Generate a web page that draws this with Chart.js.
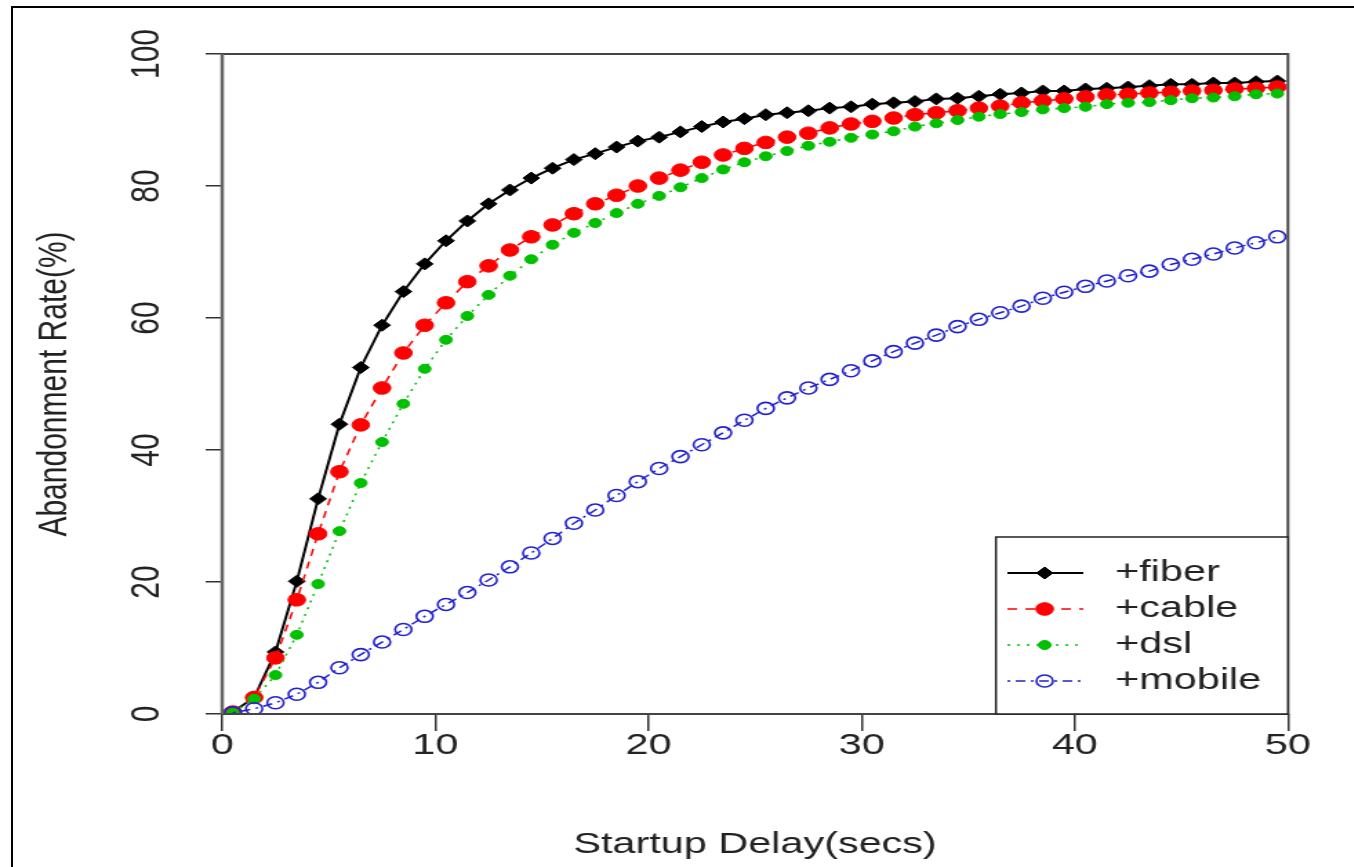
<!DOCTYPE html>
<html>
<head>
<meta charset="utf-8">
<script src="https://cdn.jsdelivr.net/npm/chart.js@4.4.1/dist/chart.umd.min.js"></script>
<style>
  html, body { margin: 0; padding: 0; background: #fff; overflow: hidden; }
  #frame { position: absolute; left: 11px; top: 6px; width: 1400px; height: 900px;
           border-left: 2px solid #000; border-top: 2px solid #000; }
  /* the original figure is stretched sideways, so the canvas is too */
  #wrap { position: absolute; left: 0; top: 0; width: 981px; height: 867px;
          transform: scaleX(1.38); transform-origin: 0 0; }
</style>
</head>
<body>
<div id="frame"></div>
<div id="wrap"><canvas id="chart"></canvas></div>
<script>
const delays = [0.5, 1.5, 2.5, 3.5, 4.5, 5.5, 6.5, 7.5, 8.5, 9.5,
    10.5, 11.5, 12.5, 13.5, 14.5, 15.5, 16.5, 17.5, 18.5, 19.5,
    20.5, 21.5, 22.5, 23.5, 24.5, 25.5, 26.5, 27.5, 28.5, 29.5,
    30.5, 31.5, 32.5, 33.5, 34.5, 35.5, 36.5, 37.5, 38.5, 39.5,
    40.5, 41.5, 42.5, 43.5, 44.5, 45.5, 46.5, 47.5, 48.5, 49.5];

const fiber = [0.3, 2.5, 9.4, 20.1, 32.6, 43.9, 52.5, 58.9, 64.0, 68.2,
    71.7, 74.7, 77.3, 79.4, 81.2, 82.7, 84.0, 84.9, 85.9, 86.8,
    87.4, 88.2, 89.0, 89.7, 90.2, 90.8, 91.1, 91.4, 91.8, 92.0,
    92.4, 92.6, 92.8, 93.2, 93.3, 93.6, 93.9, 94.1, 94.4, 94.4,
    94.7, 94.8, 95.0, 95.2, 95.4, 95.4, 95.6, 95.6, 95.8, 95.9];

const cable = [0.3, 2.5, 8.5, 17.3, 27.3, 36.7, 43.8, 49.4, 54.7, 58.9,
    62.3, 65.5, 67.9, 70.3, 72.3, 74.1, 75.8, 77.3, 78.6, 80.0,
    81.2, 82.4, 83.6, 84.7, 85.7, 86.6, 87.4, 88.0, 88.8, 89.4,
    89.8, 90.3, 90.8, 91.1, 91.4, 91.8, 92.1, 92.6, 92.9, 93.2,
    93.5, 93.8, 93.9, 94.1, 94.2, 94.4, 94.5, 94.7, 94.8, 95.0];

const dsl = [0.2, 2.3, 5.9, 12.0, 19.7, 27.7, 35.0, 41.2, 47.0, 52.3,
    56.7, 60.3, 63.5, 66.4, 68.9, 71.1, 72.9, 74.4, 75.9, 77.3,
    78.5, 79.8, 81.2, 82.5, 83.6, 84.5, 85.3, 86.1, 86.7, 87.3,
    87.8, 88.3, 89.0, 89.5, 90.0, 90.5, 90.9, 91.2, 91.6, 91.8,
    92.0, 92.4, 92.6, 92.7, 93.0, 93.3, 93.4, 93.6, 93.9, 94.0];

const mobile = [0.2, 0.8, 1.7, 3.0, 4.8, 7.0, 9.0, 10.9, 12.8, 14.8,
    16.6, 18.4, 20.3, 22.3, 24.4, 26.6, 28.9, 30.9, 33.1, 35.2,
    37.2, 39.0, 40.8, 42.6, 44.5, 46.3, 47.9, 49.4, 50.7, 52.0,
    53.5, 54.9, 56.2, 57.4, 58.7, 59.8, 60.8, 61.8, 63.0, 63.9,
    64.8, 65.6, 66.4, 67.1, 68.1, 68.9, 69.7, 70.6, 71.4, 72.3];

const xTicks = [0, 10, 20, 30, 40, 50];
const yTicks = [0, 20, 40, 60, 80, 100];

const FONT = 'Liberation Sans, Arial, sans-serif';
const TEXT = '#222';

const toPoints = vals => vals.map((v, i) => ({ x: delays[i], y: v }));

function marker(ctx, style, r, x, y) {
    ctx.beginPath();
    if (style === 'rectRot') {
        ctx.moveTo(x, y - r); ctx.lineTo(x + r, y); ctx.lineTo(x, y + r); ctx.lineTo(x - r, y);
        ctx.closePath();
    } else {
        ctx.arc(x, y, r, 0, Math.PI * 2);
    }
}

// box, rotated y labels and the legend, drawn the R way
const rStyle = {
    id: 'rStyle',
    afterDraw(chart) {
        const { ctx, chartArea: a, scales } = chart;
        ctx.save();
        ctx.strokeStyle = '#444';
        ctx.lineWidth = 2;
        ctx.strokeRect(a.left, a.top, a.right - a.left, a.bottom - a.top);
        // left axis line is heavier in the original
        ctx.strokeStyle = '#666';
        ctx.lineWidth = 2.5;
        ctx.beginPath();
        ctx.moveTo(a.left, a.top);
        ctx.lineTo(a.left, a.bottom);
        ctx.stroke();

        ctx.fillStyle = TEXT;
        ctx.font = '30px ' + FONT;
        ctx.textAlign = 'center';
        ctx.textBaseline = 'middle';
        yTicks.forEach(v => {
            ctx.save();
            ctx.translate(107, scales.y.getPixelForValue(v));
            ctx.rotate(-Math.PI / 2);
            ctx.fillText(String(v), 0, 0);
            ctx.restore();
        });

        // legend
        const lx = 721.7, ly = 537;
        ctx.fillStyle = '#fff';
        ctx.fillRect(lx, ly, a.right - lx, a.bottom - ly);
        ctx.strokeStyle = '#222';
        ctx.lineWidth = 1.5;
        ctx.strokeRect(lx, ly, a.right - lx, a.bottom - ly);

        chart.data.datasets.forEach((ds, i) => {
            const y = 573 + i * 36;
            ctx.save();
            ctx.strokeStyle = ds.borderColor;
            ctx.lineWidth = ds.borderWidth;
            ctx.setLineDash(ds.borderDash || []);
            ctx.beginPath();
            ctx.moveTo(730, y);
            ctx.lineTo(785, y);
            ctx.stroke();
            ctx.setLineDash([]);
            marker(ctx, ds.pointStyle, ds.pointRadius, 757, y);
            ctx.fillStyle = ds.pointBackgroundColor;
            ctx.fill();
            ctx.lineWidth = ds.pointBorderWidth;
            ctx.stroke();
            ctx.restore();

            ctx.fillStyle = TEXT;
            ctx.textAlign = 'left';
            ctx.fillText(ds.label, 808, y);
        });
        ctx.restore();
    }
};

new Chart(document.getElementById('chart'), {
    type: 'line',
    data: {
        datasets: [
            {
                label: '+fiber', data: toPoints(fiber), order: 4,
                borderColor: '#000', borderWidth: 2,
                pointStyle: 'rectRot', pointRadius: 6, pointBorderWidth: 1,
                pointBackgroundColor: '#000', pointBorderColor: '#000'
            },
            {
                label: '+cable', data: toPoints(cable), order: 3,
                borderColor: '#ff0000', borderWidth: 1.5, borderDash: [7, 6],
                pointStyle: 'circle', pointRadius: 6.3, pointBorderWidth: 1,
                pointBackgroundColor: '#ff0000', pointBorderColor: '#ff0000'
            },
            {
                label: '+dsl', data: toPoints(dsl), order: 2,
                borderColor: '#00c000', borderWidth: 1.5, borderDash: [2, 5],
                pointStyle: 'circle', pointRadius: 4.5, pointBorderWidth: 1,
                pointBackgroundColor: '#00c000', pointBorderColor: '#00c000'
            },
            {
                label: '+mobile', data: toPoints(mobile), order: 1,
                borderColor: '#2020d0', borderWidth: 1.5, borderDash: [2, 4, 7, 4],
                pointStyle: 'circle', pointRadius: 6, pointBorderWidth: 1.6,
                pointBackgroundColor: 'rgba(0,0,0,0)', pointBorderColor: '#2020d0'
            }
        ]
    },
    options: {
        responsive: true,
        maintainAspectRatio: false,
        animation: false,
        layout: { padding: { top: 54, right: 47.7, left: 0, bottom: 0 } },
        plugins: { legend: { display: false }, tooltip: { enabled: false } },
        scales: {
            x: {
                type: 'linear', min: 0, max: 50,
                afterBuildTicks: s => { s.ticks = xTicks.map(v => ({ value: v })); },
                afterFit: s => { s.height = 153; },
                border: { display: false },
                grid: { drawOnChartArea: false, tickLength: 17, color: '#333', lineWidth: 1.5 },
                ticks: { color: TEXT, padding: 0, maxRotation: 0, font: { family: FONT, size: 30, lineHeight: 1 } },
                title: {
                    display: true, text: 'Startup Delay(secs)', color: TEXT,
                    font: { family: FONT, size: 30, lineHeight: 1.2 }, padding: { top: 0, bottom: 4 }
                }
            },
            y: {
                min: 0, max: 100,
                afterBuildTicks: s => { s.ticks = yTicks.map(v => ({ value: v })); },
                afterFit: s => { s.width = 161; },
                border: { display: false },
                grid: { drawOnChartArea: false, tickLength: 12, color: '#333', lineWidth: 1.5 },
                ticks: { display: false },
                title: {
                    display: true, text: 'Abandonment Rate(%)', color: TEXT,
                    font: { family: FONT, size: 30, lineHeight: 1.2 }, padding: { top: 22, bottom: 0 }
                }
            }
        }
    },
    plugins: [rStyle]
});
</script>
</body>
</html>
